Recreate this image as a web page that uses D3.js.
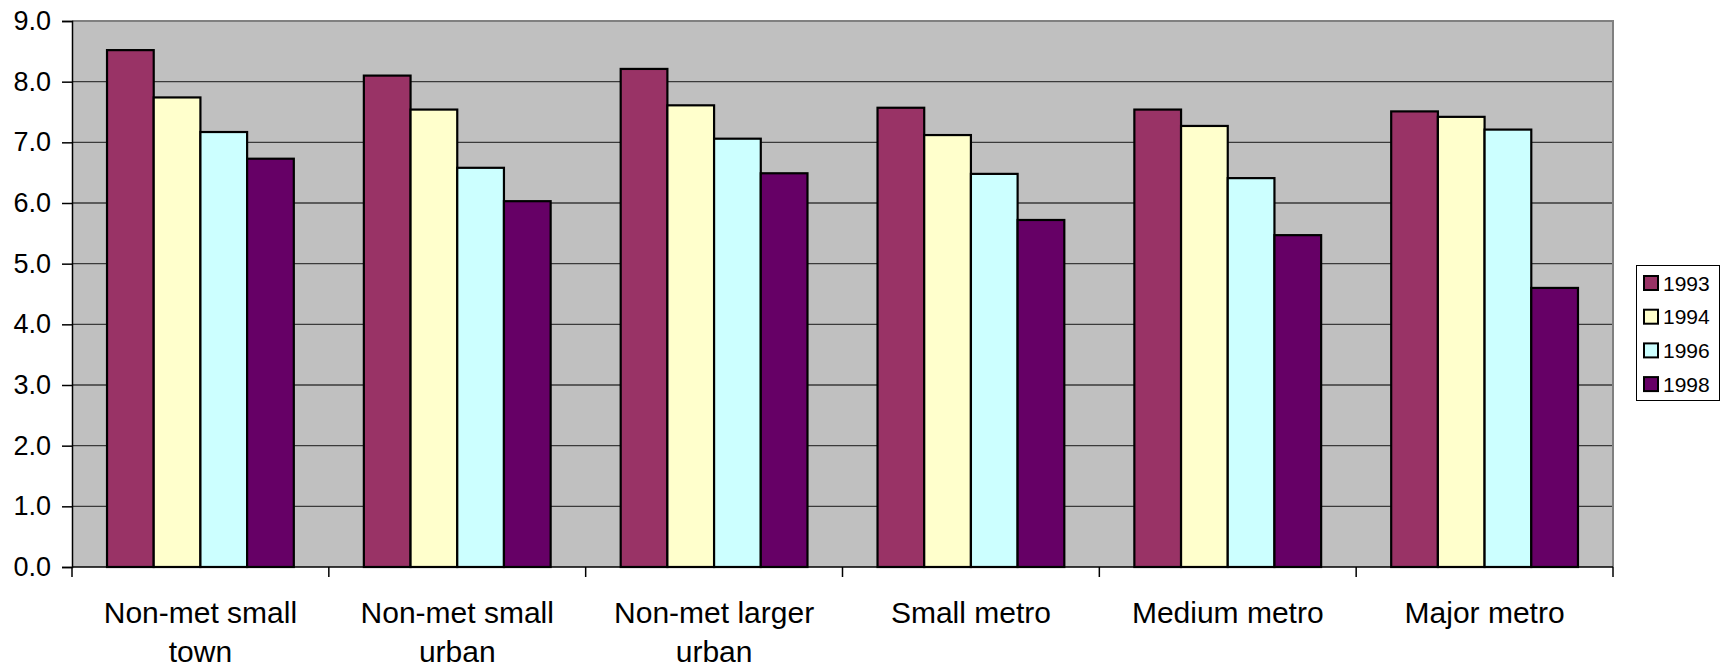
<!DOCTYPE html>
<html>
<head>
<meta charset="utf-8">
<script src="https://cdn.jsdelivr.net/npm/d3@7"></script>
<style>
  body { margin: 0; background: #fff; }
  svg { display: block; font-family: "Liberation Sans", Arial, sans-serif; }
</style>
</head>
<body>
<svg id="chart" width="1726" height="669"></svg>
<script>
const categories = [
  ['Non-met small', 'town'],
  ['Non-met small', 'urban'],
  ['Non-met larger', 'urban'],
  ['Small metro'],
  ['Medium metro'],
  ['Major metro']
];
const seriesNames = ['1993', '1994', '1996', '1998'];
const seriesColors = ['#993366', '#FFFFCC', '#CCFFFF', '#660066'];
const values1993 = [8.52, 8.10, 8.21, 7.57, 7.54, 7.51];
const values1994 = [7.74, 7.54, 7.61, 7.12, 7.27, 7.42];
const values1996 = [7.17, 6.58, 7.06, 6.48, 6.41, 7.21];
const values1998 = [6.73, 6.03, 6.49, 5.72, 5.47, 4.60];
const yTicks = [0, 1, 2, 3, 4, 5, 6, 7, 8, 9];

const seriesValues = [values1993, values1994, values1996, values1998];
const svg = d3.select('#chart');
const plot = { left: 72, right: 1613, top: 21, bottom: 567 };

const x = d3.scaleBand()
  .domain(d3.range(categories.length))
  .range([plot.left, plot.right]);
// excel-style gap width of ~150%: band = 4 bars + 1.5 bar
const barW = x.bandwidth() / 5.5;
const xInner = d3.scaleBand()
  .domain(d3.range(seriesNames.length))
  .range([(x.bandwidth() - barW * 4) / 2, (x.bandwidth() + barW * 4) / 2]);

const y = d3.scaleLinear().domain([0, 9]).range([plot.bottom, plot.top]);

// plot background
svg.append('rect')
  .attr('x', plot.left).attr('y', plot.top)
  .attr('width', plot.right - plot.left).attr('height', plot.bottom - plot.top)
  .attr('fill', '#C0C0C0');

// gridlines
svg.append('g')
  .selectAll('line')
  .data(yTicks.filter(t => t > 0 && t < 9))
  .join('line')
  .attr('x1', plot.left).attr('x2', plot.right)
  .attr('y1', d => y(d)).attr('y2', d => y(d))
  .attr('stroke', '#3a3a3a').attr('stroke-width', 1.3);

// plot border (top/right)
svg.append('path')
  .attr('d', `M${plot.left},${plot.top}H${plot.right}V${plot.bottom}`)
  .attr('fill', 'none').attr('stroke', '#808080').attr('stroke-width', 2);

// bars
const groups = svg.append('g')
  .selectAll('g')
  .data(categories.map((c, i) => i))
  .join('g')
  .attr('transform', i => `translate(${x(i)},0)`);

groups.selectAll('rect')
  .data(i => seriesValues.map((vals, s) => ({ s, v: vals[i] })))
  .join('rect')
  .attr('x', d => xInner(d.s))
  .attr('y', d => y(d.v))
  .attr('width', xInner.bandwidth())
  .attr('height', d => y(0) - y(d.v))
  .attr('fill', d => seriesColors[d.s])
  .attr('stroke', '#000')
  .attr('stroke-width', 2.2);

// y axis
const yAxis = svg.append('g')
  .attr('transform', `translate(${plot.left},0)`)
  .call(d3.axisLeft(y).tickValues(yTicks).tickFormat(d3.format('.1f')).tickSize(10).tickPadding(11));
yAxis.select('.domain').attr('stroke', '#000').attr('stroke-width', 1.5);
yAxis.selectAll('.tick line').attr('stroke', '#000').attr('stroke-width', 1.5);
yAxis.selectAll('.tick text')
  .attr('font-size', 27)
  .attr('font-family', '"Liberation Sans", Arial, sans-serif')
  .attr('fill', '#000');

// x axis
const xEdges = d3.range(categories.length + 1).map(i => i === categories.length ? plot.right : x(i));
const xAxisG = svg.append('g');
xAxisG.append('line')
  .attr('x1', plot.left).attr('x2', plot.right)
  .attr('y1', plot.bottom).attr('y2', plot.bottom)
  .attr('stroke', '#000').attr('stroke-width', 1.5);
xAxisG.selectAll('line.tick')
  .data(xEdges)
  .join('line')
  .attr('class', 'tick')
  .attr('x1', d => d).attr('x2', d => d)
  .attr('y1', plot.bottom).attr('y2', plot.bottom + 10)
  .attr('stroke', '#000').attr('stroke-width', 1.5);

const labels = xAxisG.selectAll('text.cat')
  .data(categories)
  .join('text')
  .attr('class', 'cat')
  .attr('text-anchor', 'middle')
  .attr('font-size', 30)
  .attr('fill', '#000')
  .attr('transform', (d, i) => `translate(${x(i) + x.bandwidth() / 2},0)`);
labels.selectAll('tspan')
  .data(d => d)
  .join('tspan')
  .attr('x', 0)
  .attr('y', (d, j) => 623 + j * 38.5)
  .text(d => d);

// legend
const legend = svg.append('g');
legend.append('rect')
  .attr('x', 1636.5).attr('y', 265.5).attr('width', 83).attr('height', 135)
  .attr('fill', '#fff').attr('stroke', '#000').attr('stroke-width', 1);
const rows = legend.selectAll('g.row')
  .data(seriesNames)
  .join('g')
  .attr('class', 'row')
  .attr('transform', (d, i) => `translate(1644,${283 + i * 33.7})`);
rows.append('rect')
  .attr('x', 0).attr('y', -7).attr('width', 14).attr('height', 14)
  .attr('fill', (d, i) => seriesColors[i])
  .attr('stroke', '#000').attr('stroke-width', 2);
rows.append('text')
  .attr('x', 19).attr('y', 7.5)
  .attr('font-size', 21)
  .attr('fill', '#000')
  .text(d => d);
</script>
</body>
</html>
